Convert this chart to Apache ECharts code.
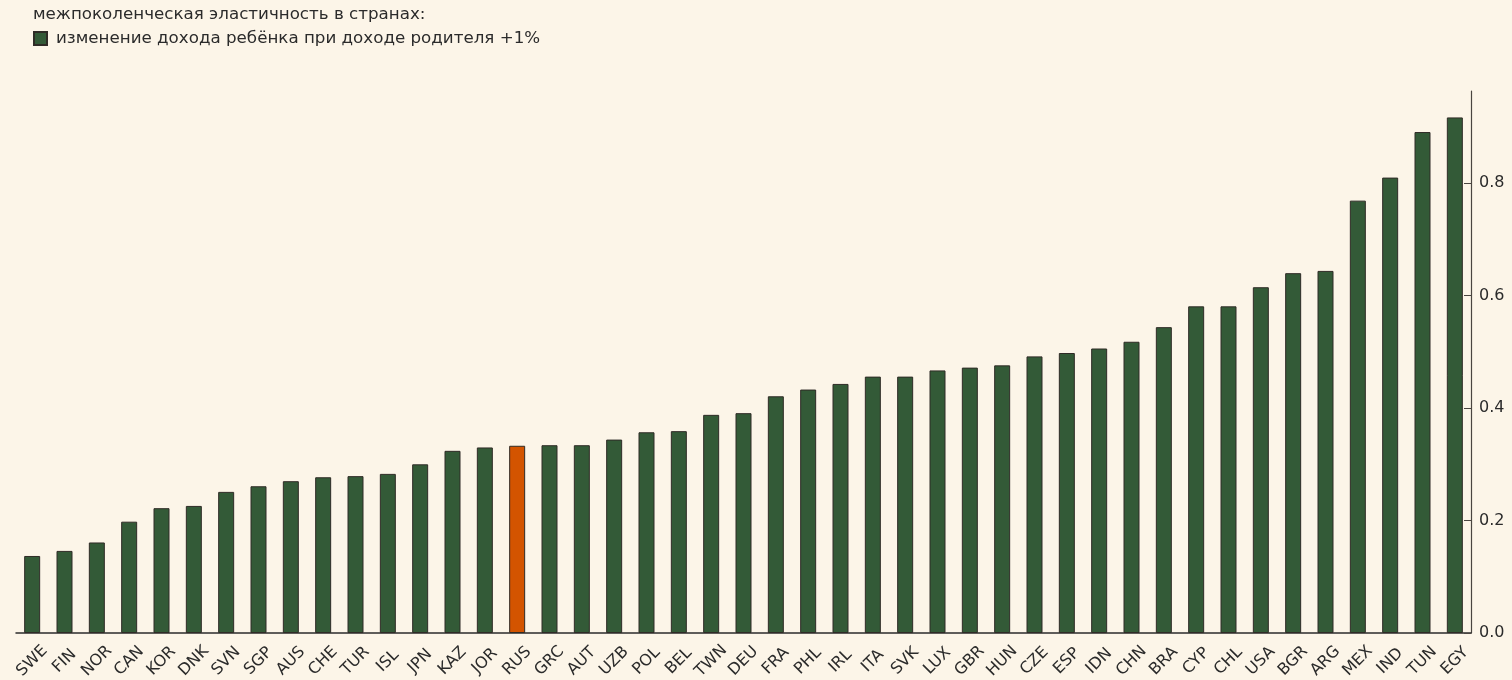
<!DOCTYPE html>
<html>
<head>
<meta charset="utf-8">
<script src="https://cdn.jsdelivr.net/npm/echarts@6/dist/echarts.min.js"></script>
<style>
  html, body { margin: 0; padding: 0; background: #fcf5e8; }
  #chart { width: 1512px; height: 680px; }
</style>
</head>
<body>
<div id="chart"></div>
<script>
// страны (ISO-коды) по возрастанию эластичности
var countries = ['SWE', 'FIN', 'NOR', 'CAN', 'KOR', 'DNK', 'SVN', 'SGP', 'AUS', 'CHE', 'TUR', 'ISL',
    'JPN', 'KAZ', 'JOR', 'RUS', 'GRC', 'AUT', 'UZB', 'POL', 'BEL', 'TWN', 'DEU', 'FRA',
    'PHL', 'IRL', 'ITA', 'SVK', 'LUX', 'GBR', 'HUN', 'CZE', 'ESP', 'IDN', 'CHN', 'BRA',
    'CYP', 'CHL', 'USA', 'BGR', 'ARG', 'MEX', 'IND', 'TUN', 'EGY'];

var elasticity = [0.137, 0.146, 0.161, 0.198, 0.222, 0.226, 0.251, 0.261, 0.270, 0.277, 0.279, 0.283,
    0.300, 0.324, 0.330, 0.333, 0.334, 0.334, 0.344, 0.357, 0.359, 0.388, 0.391, 0.421,
    0.433, 0.443, 0.456, 0.456, 0.467, 0.472, 0.476, 0.492, 0.498, 0.506, 0.518, 0.544,
    0.581, 0.581, 0.615, 0.640, 0.644, 0.769, 0.810, 0.891, 0.917];

var yTicks = [0, 0.2, 0.4, 0.6, 0.8];

var highlight = 'RUS';
var green = '#335a37';
var orange = '#d35400';

var chart = echarts.init(document.getElementById('chart'));

var barData = [];
for (var i = 0; i < countries.length; i++) {
    barData.push({
        value: elasticity[i],
        itemStyle: { color: countries[i] == highlight ? orange : green }
    });
}

chart.setOption({
    backgroundColor: '#fcf5e8',
    animation: false,
    textStyle: { fontFamily: 'DejaVu Sans', color: '#2b2b2b' },
    title: {
        text: 'межпоколенческая эластичность в странах:',
        left: 28,
        top: 1,
        textStyle: { fontSize: 16.7, fontWeight: 'normal', color: '#2b2b2b', fontFamily: 'DejaVu Sans' }
    },
    legend: {
        data: ['изменение дохода ребёнка при доходе родителя +1%'],
        left: 28,
        top: 25,
        itemWidth: 13,
        itemHeight: 13,
        icon: 'rect',
        textStyle: { fontSize: 16.7, color: '#2b2b2b', padding: [0, 0, 0, 4] }
    },
    grid: { left: 16, right: 41, top: 91, bottom: 47, outerBoundsMode: 'none' },
    xAxis: {
        type: 'category',
        data: countries,
        boundaryGap: true,
        axisLine: { lineStyle: { color: '#2b2b2b', width: 1.5 } },
        axisTick: { show: false },
        axisLabel: {
            rotate: 45,
            interval: 0,
            fontSize: 16,
            color: '#2b2b2b',
            margin: 28,
            align: 'center',
            verticalAlign: 'middle'
        }
    },
    yAxis: {
        type: 'value',
        position: 'right',
        min: 0,
        max: 0.964,
        interval: 0.2,
        splitLine: { show: false },
        axisLine: { show: true, lineStyle: { color: '#4a4540', width: 1.2 } },
        axisTick: { show: true, inside: true, length: 7, lineStyle: { color: '#4a4540' } },
        axisLabel: {
            fontSize: 16,
            color: '#2b2b2b',
            margin: 8,
            showMaxLabel: false,
            formatter: function (v) {
                return yTicks.indexOf(Math.round(v * 10) / 10) >= 0 ? v.toFixed(1) : '';
            }
        }
    },
    series: [{
        name: 'изменение дохода ребёнка при доходе родителя +1%',
        type: 'bar',
        data: barData,
        barWidth: 16,
        itemStyle: { color: green, borderColor: '#2f2b26', borderWidth: 1 }
    }],
    color: [green]
});
</script>
</body>
</html>
